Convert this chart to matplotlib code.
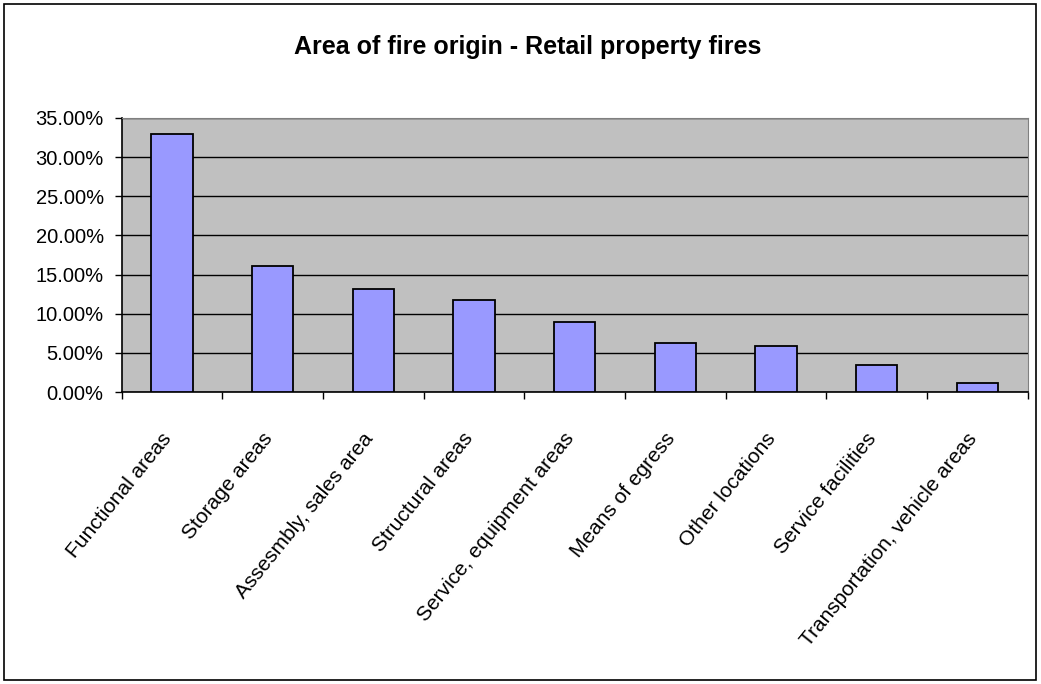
import numpy as np
import matplotlib
matplotlib.use('Agg')
import matplotlib.pyplot as plt
from matplotlib.ticker import FuncFormatter, MultipleLocator
from matplotlib.patches import Rectangle
from matplotlib.transforms import ScaledTranslation


# area of fire origin, share of retail property fires (%)
areas = ['Functional areas', 'Storage areas', 'Assesmbly, sales area',
         'Structural areas', 'Service, equipment areas', 'Means of egress',
         'Other locations', 'Service facilities', 'Transportation, vehicle areas']
shares = [33.0, 16.1, 13.2, 11.8, 8.9, 6.3, 5.9, 3.5, 1.1]

title = 'Area of fire origin - Retail property fires'

plt.rcParams['font.family'] = ['Liberation Sans', 'DejaVu Sans']

fig = plt.figure(figsize=(10.41, 6.84), dpi=100)
ax = fig.add_axes([0.1169, 0.4269, 0.8703, 0.4006])

x = np.arange(len(areas))
ax.bar(x, shares, width=0.41, color='#9999FF', edgecolor='black', linewidth=1.3, zorder=3)

ax.set_facecolor('#C0C0C0')
ax.set_xlim(-0.5, len(areas) - 0.5)
ax.set_ylim(0, 35)
ax.yaxis.set_major_locator(MultipleLocator(5))
ax.yaxis.set_major_formatter(FuncFormatter(lambda v, p: '%.2f%%' % v))
ax.grid(axis='y', color='black', linewidth=1.0, zorder=1)

# ticks at the category boundaries, labels at the centres
ax.set_xticks(np.arange(len(areas) + 1) - 0.5)
ax.set_xticklabels([])
ax.set_xticks(x, minor=True)
ax.set_xticklabels(areas, minor=True, rotation=51, ha='right', va='center',
                   rotation_mode='anchor', fontsize=15)
ax.tick_params(axis='x', which='minor', length=0, pad=31)
ax.tick_params(axis='x', which='major', length=5, width=1, color='black')
ax.tick_params(axis='y', length=5, width=1, pad=8, labelsize=14.5)

shift = ScaledTranslation(-0.04, 0, fig.dpi_scale_trans)
for lab in ax.get_xticklabels(minor=True):
    lab.set_transform(lab.get_transform() + shift)

for sp in ['top', 'right']:
    ax.spines[sp].set_color('#808080')
for sp in ['left', 'bottom']:
    ax.spines[sp].set_color('black')
    ax.spines[sp].set_linewidth(1.2)

fig.text(0.507, 0.931, title, ha='center', va='center', fontsize=18, fontweight='bold')

# outer frame of the chart
fig.patches.append(Rectangle((4 / 1041, 4 / 684), 1032 / 1041, 676 / 684,
                             transform=fig.transFigure, fill=False,
                             edgecolor='black', linewidth=1.2))

fig.savefig('out.png', dpi=100)
